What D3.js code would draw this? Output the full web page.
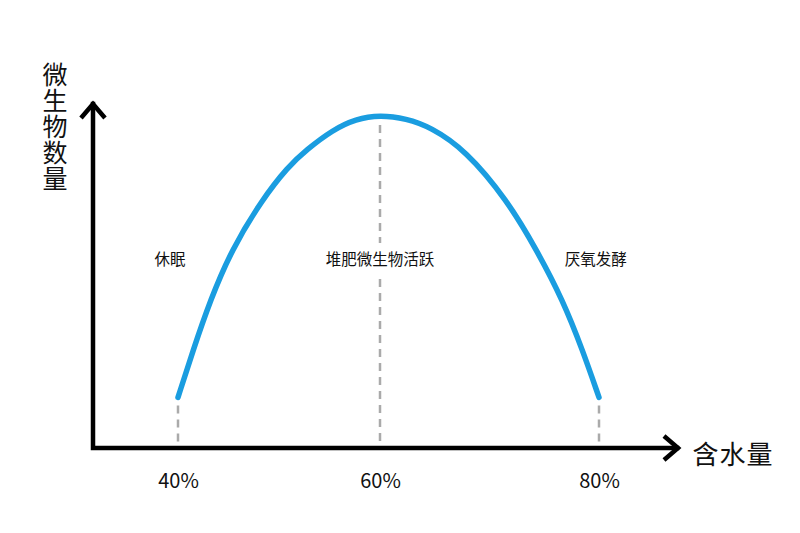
<!DOCTYPE html>
<html>
<head>
<meta charset="utf-8">
<script src="https://cdn.jsdelivr.net/npm/d3@7/dist/d3.min.js"></script>
<style>
html,body{margin:0;padding:0;background:#fff;}
svg{display:block;}
text{font-family:"Noto Sans CJK SC","Noto Sans",sans-serif;fill:#111;}
</style>
</head>
<body>
<svg id="chart" width="800" height="533"></svg>
<script>
// moisture (%) vs relative microbe count
const moisture = [40, 41.5, 43.2, 45.3, 48.3, 50.9, 52.7, 55.3, 57.6, 60, 62.4, 64.6, 67.8, 71.6, 74.3, 76.7, 78.5, 80];
const microbes = [15.2, 29.4, 44.4, 59.5, 74.5, 84.5, 89.5, 95.5, 98.8, 100, 98.9, 96.4, 89.5, 74.5, 59.5, 44.4, 29.4, 15.2];
const tickValues = [40, 60, 80];
const tickLabels = ["40%", "60%", "80%"];
const zoneX = [39.2, 60, 79.7];
const zoneLabels = ["休眠", "堆肥微生物活跃", "厌氧发酵"];
const yTitle = "微生物数量";
const xTitle = "含水量";

const svg = d3.select("#chart");
const x0 = 93, y0 = 448;
const x = d3.scaleLinear().domain([40, 60, 80]).range([178, 380, 599]);
const y = d3.scaleLinear().domain([0, 100]).range([y0, 115]);

// dashed guides
const guideTop = [microbes[0], 100, microbes[microbes.length - 1]];
svg.append("g").selectAll("line").data(tickValues).join("line")
  .attr("x1", d => x(d)).attr("x2", d => x(d))
  .attr("y1", (d, i) => y(guideTop[i]) + (i === 1 ? 10 : 8))
  .attr("y2", y0 - 6)
  .attr("stroke", "#aaaaaa").attr("stroke-width", 2.5)
  .attr("stroke-dasharray", "8,6");

// zone labels with white background
const zg = svg.append("g");
zoneLabels.forEach((t, i) => {
  const tx = zg.append("text").attr("x", x(zoneX[i])).attr("y", 258)
    .attr("text-anchor", "middle").attr("dominant-baseline", "central")
    .attr("font-size", 15.5).text(t);
  const bb = tx.node().getBBox();
  zg.insert("rect", "text").attr("x", bb.x - 4).attr("y", bb.y - 4)
    .attr("width", bb.width + 8).attr("height", bb.height + 8).attr("fill", "#fff");
});

// curve
const pts = moisture.map((m, i) => [m, microbes[i]]);
svg.append("path").datum(pts)
  .attr("d", d3.line().x(d => x(d[0])).y(d => y(d[1])).curve(d3.curveBasis))
  .attr("fill", "none").attr("stroke", "#1a9de0").attr("stroke-width", 5.5)
  .attr("stroke-linecap", "round");

// axes lines
const ax = svg.append("g").attr("stroke", "#000").attr("stroke-width", 4.5).attr("fill", "none");
ax.append("path").attr("d", `M${x0},104 L${x0},${y0} L677,${y0}`).attr("stroke-linejoin", "miter").attr("stroke-linecap", "square");
ax.append("path").attr("d", `M${x0 - 12},118 L${x0},104 L${x0 + 12},118`).attr("stroke-linejoin", "miter");
ax.append("path").attr("d", `M664,${y0 - 12} L678,${y0} L664,${y0 + 12}`).attr("stroke-linejoin", "miter");

// tick labels via axis
const xAxis = d3.axisBottom(x).tickValues(tickValues).tickSize(0).tickPadding(26)
  .tickFormat((d, i) => tickLabels[i]);
const g = svg.append("g").attr("transform", `translate(0,${y0})`).call(xAxis);
g.select(".domain").remove();
g.selectAll("text").attr("font-size", 20).attr("font-family", '"Noto Sans CJK SC","Noto Sans",sans-serif').attr("fill", "#111");

// titles
svg.append("text").attr("x", 55).attr("y", 127)
  .attr("writing-mode", "vertical-rl").style("writing-mode", "vertical-rl")
  .attr("text-anchor", "middle").attr("dominant-baseline", "central")
  .attr("font-size", 25).attr("letter-spacing", 1.2).text(yTitle);
svg.append("text").attr("x", 733).attr("y", 452)
  .attr("text-anchor", "middle").attr("dominant-baseline", "central")
  .attr("font-size", 26).attr("letter-spacing", 1).text(xTitle);
</script>
</body>
</html>
